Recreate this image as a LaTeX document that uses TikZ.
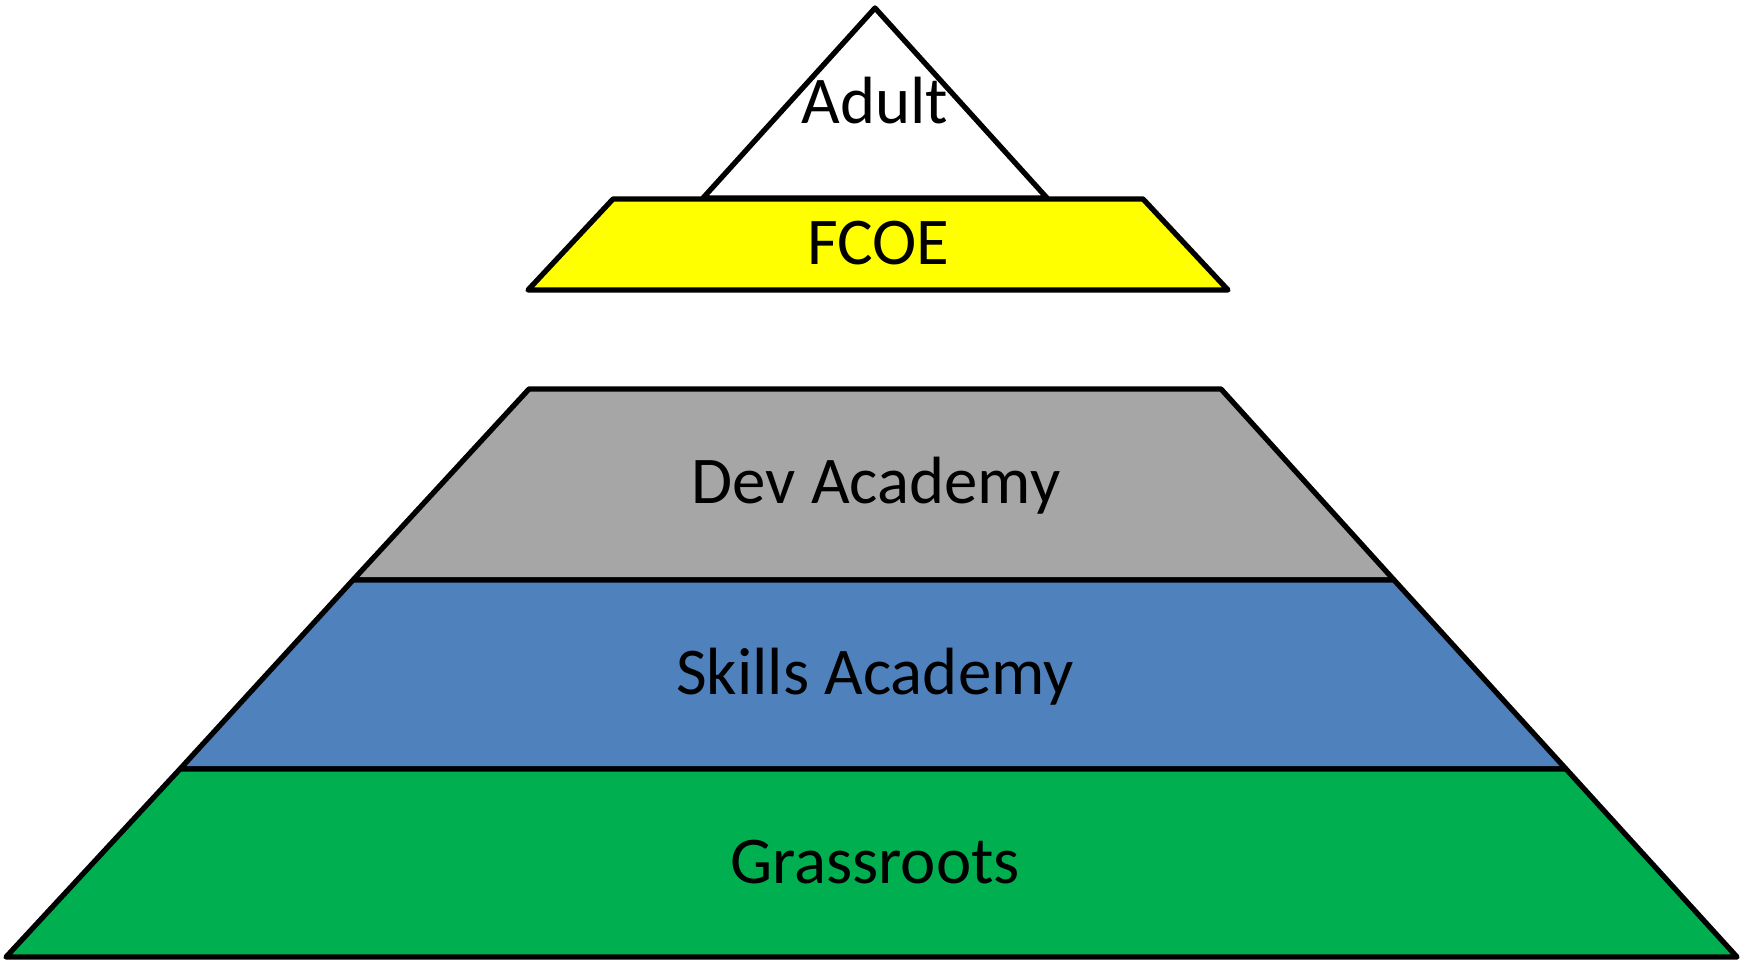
\documentclass[tikz,border=0pt]{standalone}
\usepackage{fontspec}
\setmainfont{Carlito}
\definecolor{fcoeyellow}{HTML}{FFFF00}
\definecolor{devgray}{HTML}{A6A6A6}
\definecolor{skillsblue}{HTML}{4F81BD}
\definecolor{grassgreen}{HTML}{00B050}
\tikzset{lbl/.style={anchor=base,inner sep=0pt,font=\fontsize{19}{23}\selectfont}}
\begin{document}
\begin{tikzpicture}[x=0.01cm,y=-0.01cm,line join=round,line width=1.5pt]
			\useasboundingbox (0,0) rectangle (1752,960);
			\path 
			(875,8)coordinate(T)
			(703,198)coordinate(TL)
			(1047,198)coordinate(TR)
			(613,199)coordinate(F1)
			(1143,199)coordinate(F2)
			(1228,290)coordinate(F3)
			(528,290)coordinate(F4)
			(529,389)coordinate(D1)
			(1221,389)coordinate(D2)
			(353,580)coordinate(S1)
			(1394,580)coordinate(S2)
			(180,769)coordinate(G1)
			(1566,769)coordinate(G2)
			(6,957)coordinate(B1)
			(1737,957)coordinate(B2)
			;
			\draw[fill=white] (T)--(TR)--(TL)--cycle;
			\draw[fill=fcoeyellow] (F1)--(F2)--(F3)--(F4)--cycle;
			\draw[fill=devgray] (D1)--(D2)--(S2)--(S1)--cycle;
			\draw[fill=skillsblue] (S1)--(S2)--(G2)--(G1)--cycle;
			\draw[fill=grassgreen] (G1)--(G2)--(B2)--(B1)--cycle;
			\foreach \n/\t/\x/\y in {adult/Adult/875/123,fcoe/FCOE/878/264,dev/Dev Academy/876/503,skills/Skills Academy/875/694,grass/Grassroots/875/883}\node[lbl](\n) at (\x,\y){\t};
		\end{tikzpicture}
\end{document}
